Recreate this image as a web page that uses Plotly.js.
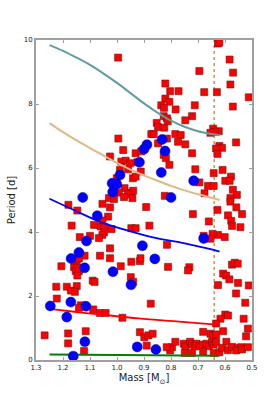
<!DOCTYPE html>
<html><head><meta charset="utf-8">
<script src="https://cdn.plot.ly/plotly-3.0.1.min.js"></script>
<style>html,body{margin:0;padding:0;background:#fff}#chart{width:280px;height:400px}</style>
</head><body><div id="chart"></div>
<script>
// Red squares (mass, period)
var redMass = [0.996,0.995,0.977,0.626,0.621,0.583,0.695,0.570,0.821,0.580,0.803,0.772,0.677,0.630,0.512,0.821,0.806,0.836,0.826,0.712,0.571,0.783,0.722,0.827,0.815,0.747,0.812,0.853,0.848,0.825,0.644,0.623,0.638,0.654,0.873,0.864,0.784,0.764,0.815,0.774,0.747,0.848,0.559,0.621,0.611,0.633,
1.026,0.931,0.910,0.984,0.968,0.952,0.925,0.912,0.989,0.959,0.941,0.931,1.001,0.972,0.993,0.949,0.940,0.959,0.974,0.943,1.030,1.011,0.892,1.180,1.147,1.054,1.026,1.033,1.054,1.085,1.060,1.046,1.020,0.947,0.931,1.168,1.048,1.054,1.100,1.138,1.067,1.026,1.120,1.063,1.026,
0.827,0.819,0.722,0.628,0.806,0.710,0.609,0.642,0.578,0.599,0.583,0.695,0.663,0.642,0.571,0.676,0.556,0.823,0.580,0.580,0.558,0.628,0.719,0.537,0.589,0.577,0.660,0.880,0.574,0.543,0.626,0.646,0.601,0.679,0.654,0.815,
1.149,1.141,1.206,1.159,1.147,1.153,1.141,1.147,0.986,0.947,0.915,0.913,0.949,0.940,1.090,1.083,1.225,1.186,1.149,1.171,1.156,1.223,1.134,1.141,1.088,1.063,1.042,0.980,1.268,1.181,1.116,1.181,1.122,0.915,0.899,0.884,0.868,0.890,0.875,
0.811,0.732,0.737,0.574,0.564,0.553,0.607,0.596,0.584,0.552,0.512,0.626,0.559,0.525,0.599,0.589,0.617,0.633,0.531,0.515,0.522,0.681,0.654,0.644,0.633,0.607,0.796,0.784,0.803,0.816,
0.753,0.747,0.729,0.722,0.712,0.706,0.695,0.683,0.669,0.660,0.648,0.642,0.633,0.749,0.722,0.681,0.642,0.621,0.595,0.611,0.589,0.574,0.553,0.540,0.559,0.537,0.515];
var redPeriod = [9.45,6.92,6.56,9.89,9.92,9.39,9.03,8.98,8.64,8.61,8.40,8.40,8.37,8.37,8.21,8.17,8.07,7.96,7.88,7.96,7.92,7.83,7.62,7.62,7.55,7.49,7.46,7.41,7.28,7.26,7.23,7.15,7.13,7.10,7.06,7.06,7.06,7.03,6.92,6.82,6.74,6.77,6.80,6.69,6.63,6.61,
6.36,6.46,6.52,6.20,6.23,6.15,6.18,5.89,5.94,5.96,5.68,5.73,5.68,5.37,5.23,5.23,5.29,5.18,5.09,5.06,5.06,5.03,4.78,4.85,4.67,4.88,4.77,4.48,4.36,4.22,4.17,4.15,4.09,4.12,4.12,4.20,3.99,3.91,3.88,3.84,3.81,3.49,3.26,3.26,3.18,
6.41,6.31,6.46,6.44,6.10,5.96,5.94,5.84,5.73,5.60,5.60,5.55,5.44,5.44,5.32,5.21,5.16,5.13,5.06,4.95,4.77,4.69,4.56,4.56,4.52,4.35,4.33,4.20,4.19,4.15,3.91,3.94,3.84,3.88,3.79,3.60,
3.09,3.17,2.93,2.90,2.88,2.78,2.78,2.64,2.93,3.07,3.09,3.18,2.59,2.44,2.48,2.44,2.29,2.29,2.31,2.17,2.13,1.92,1.71,1.63,1.58,1.47,1.47,1.32,0.77,0.83,0.90,0.52,0.28,0.87,0.71,0.77,0.82,0.45,1.76,
2.91,2.90,2.80,2.98,3.04,3.01,2.70,2.64,2.52,2.41,2.33,2.34,2.08,1.79,1.42,1.39,1.29,1.14,1.29,0.98,0.74,0.88,0.82,0.77,0.80,0.90,0.40,0.57,0.30,0.40,
0.51,0.43,0.57,0.48,0.43,0.51,0.43,0.48,0.51,0.43,0.57,0.48,0.57,0.22,0.22,0.26,0.22,0.24,0.57,0.38,0.31,0.41,0.38,0.40,0.30,0.33,0.40];

// Blue circles (mass, period)
var blueMass = [0.833,0.889,0.900,0.822,0.917,0.836,0.989,1.018,1.001,1.016,0.716,0.800,1.127,1.073,1.113,0.906,1.141,1.170,0.860,0.679,1.120,1.015,0.948,1.171,1.247,1.115,1.186,1.119,1.162,0.925,0.856];
var bluePeriod = [6.89,6.73,6.59,6.53,6.18,5.86,5.78,5.52,5.49,5.25,5.60,5.08,5.08,4.51,3.72,3.57,3.36,3.17,3.16,3.80,2.88,2.76,2.35,1.81,1.69,1.68,1.34,0.57,0.12,0.41,0.33];

// Model curves
var tealMass = [1.25,1.20,1.15,1.10,1.05,1.00,0.95,0.90,0.85,0.80,0.75,0.70,0.65,0.62];
var tealPeriod = [9.84,9.66,9.45,9.22,8.95,8.66,8.34,8.02,7.73,7.48,7.29,7.15,7.06,7.02];
var tanMass = [1.25,1.20,1.15,1.10,1.05,1.00,0.95,0.90,0.85,0.80,0.75,0.70,0.65,0.62];
var tanPeriod = [7.40,7.12,6.86,6.62,6.39,6.16,5.95,5.77,5.60,5.44,5.30,5.18,5.07,5.00];
var blueLineMass = [1.25,1.15,1.06,0.95,0.85,0.77,0.62];
var blueLinePeriod = [5.04,4.65,4.31,4.02,3.80,3.68,3.39];
var redLineMass = [1.25,1.15,1.06,0.92,0.77,0.62];
var redLinePeriod = [1.60,1.50,1.42,1.30,1.20,1.10];
var greenMass = [1.25,0.62];
var greenPeriod = [0.17,0.13];
var dividerMass = 0.64;

var traces = [
  {x:[dividerMass,dividerMass], y:[0,10], mode:'lines', line:{color:'#d8904a', width:1.5, dash:'3px,3px'}, hoverinfo:'skip'},
  {x:redMass, y:redPeriod, mode:'markers', marker:{symbol:'square', size:7, color:'#ff0000', line:{color:'#7a1010', width:0.6}}},
  {x:tealMass, y:tealPeriod, mode:'lines', line:{color:'#5f9ea0', width:2, shape:'spline'}},
  {x:tanMass, y:tanPeriod, mode:'lines', line:{color:'#deb887', width:2, shape:'spline'}},
  {x:blueLineMass, y:blueLinePeriod, mode:'lines', line:{color:'#0000ff', width:1.8, shape:'spline'}},
  {x:redLineMass, y:redLinePeriod, mode:'lines', line:{color:'#ff0000', width:1.8, shape:'spline'}},
  {x:greenMass, y:greenPeriod, mode:'lines', line:{color:'#008000', width:2}},
  {x:blueMass, y:bluePeriod, mode:'markers', marker:{symbol:'circle', size:10, color:'#0000ff', line:{color:'#0000aa', width:0.5}}}
];

var axisCommon = {
  showgrid:false, zeroline:false, showline:true, mirror:'ticks', linecolor:'#a0a0a0', linewidth:2,
  ticks:'inside', ticklen:3, tickwidth:1, tickcolor:'#a0a0a0',
  tickfont:{family:'DejaVu Sans', size:7, color:'#222'}
};

var layout = {
  width:280, height:400,
  margin:{l:36, r:28, t:40, b:40},
  paper_bgcolor:'#fff', plot_bgcolor:'#fff',
  showlegend:false,
  xaxis: Object.assign({}, axisCommon, {
    range:[1.3,0.5], autorange:false, tickmode:'array',
    tickvals:[1.3,1.2,1.1,1.0,0.9,0.8,0.7,0.6,0.5],
    ticktext:['1.3','1.2','1.1','1.0','0.9','0.8','0.7','0.6','0.5'],
    title:{text:'Mass [M<sub>⊙</sub>]', font:{family:'DejaVu Sans', size:10, color:'#222'}, standoff:3}
  }),
  yaxis: Object.assign({}, axisCommon, {
    range:[0,10], autorange:false, tickmode:'array',
    tickvals:[0,2,4,6,8,10], ticktext:['0','2','4','6','8','10'],
    title:{text:'Period [d]', font:{family:'DejaVu Sans', size:10, color:'#222'}, standoff:6}
  })
};

Plotly.newPlot('chart', traces, layout, {staticPlot:true, displayModeBar:false});
</script>
</body></html>
